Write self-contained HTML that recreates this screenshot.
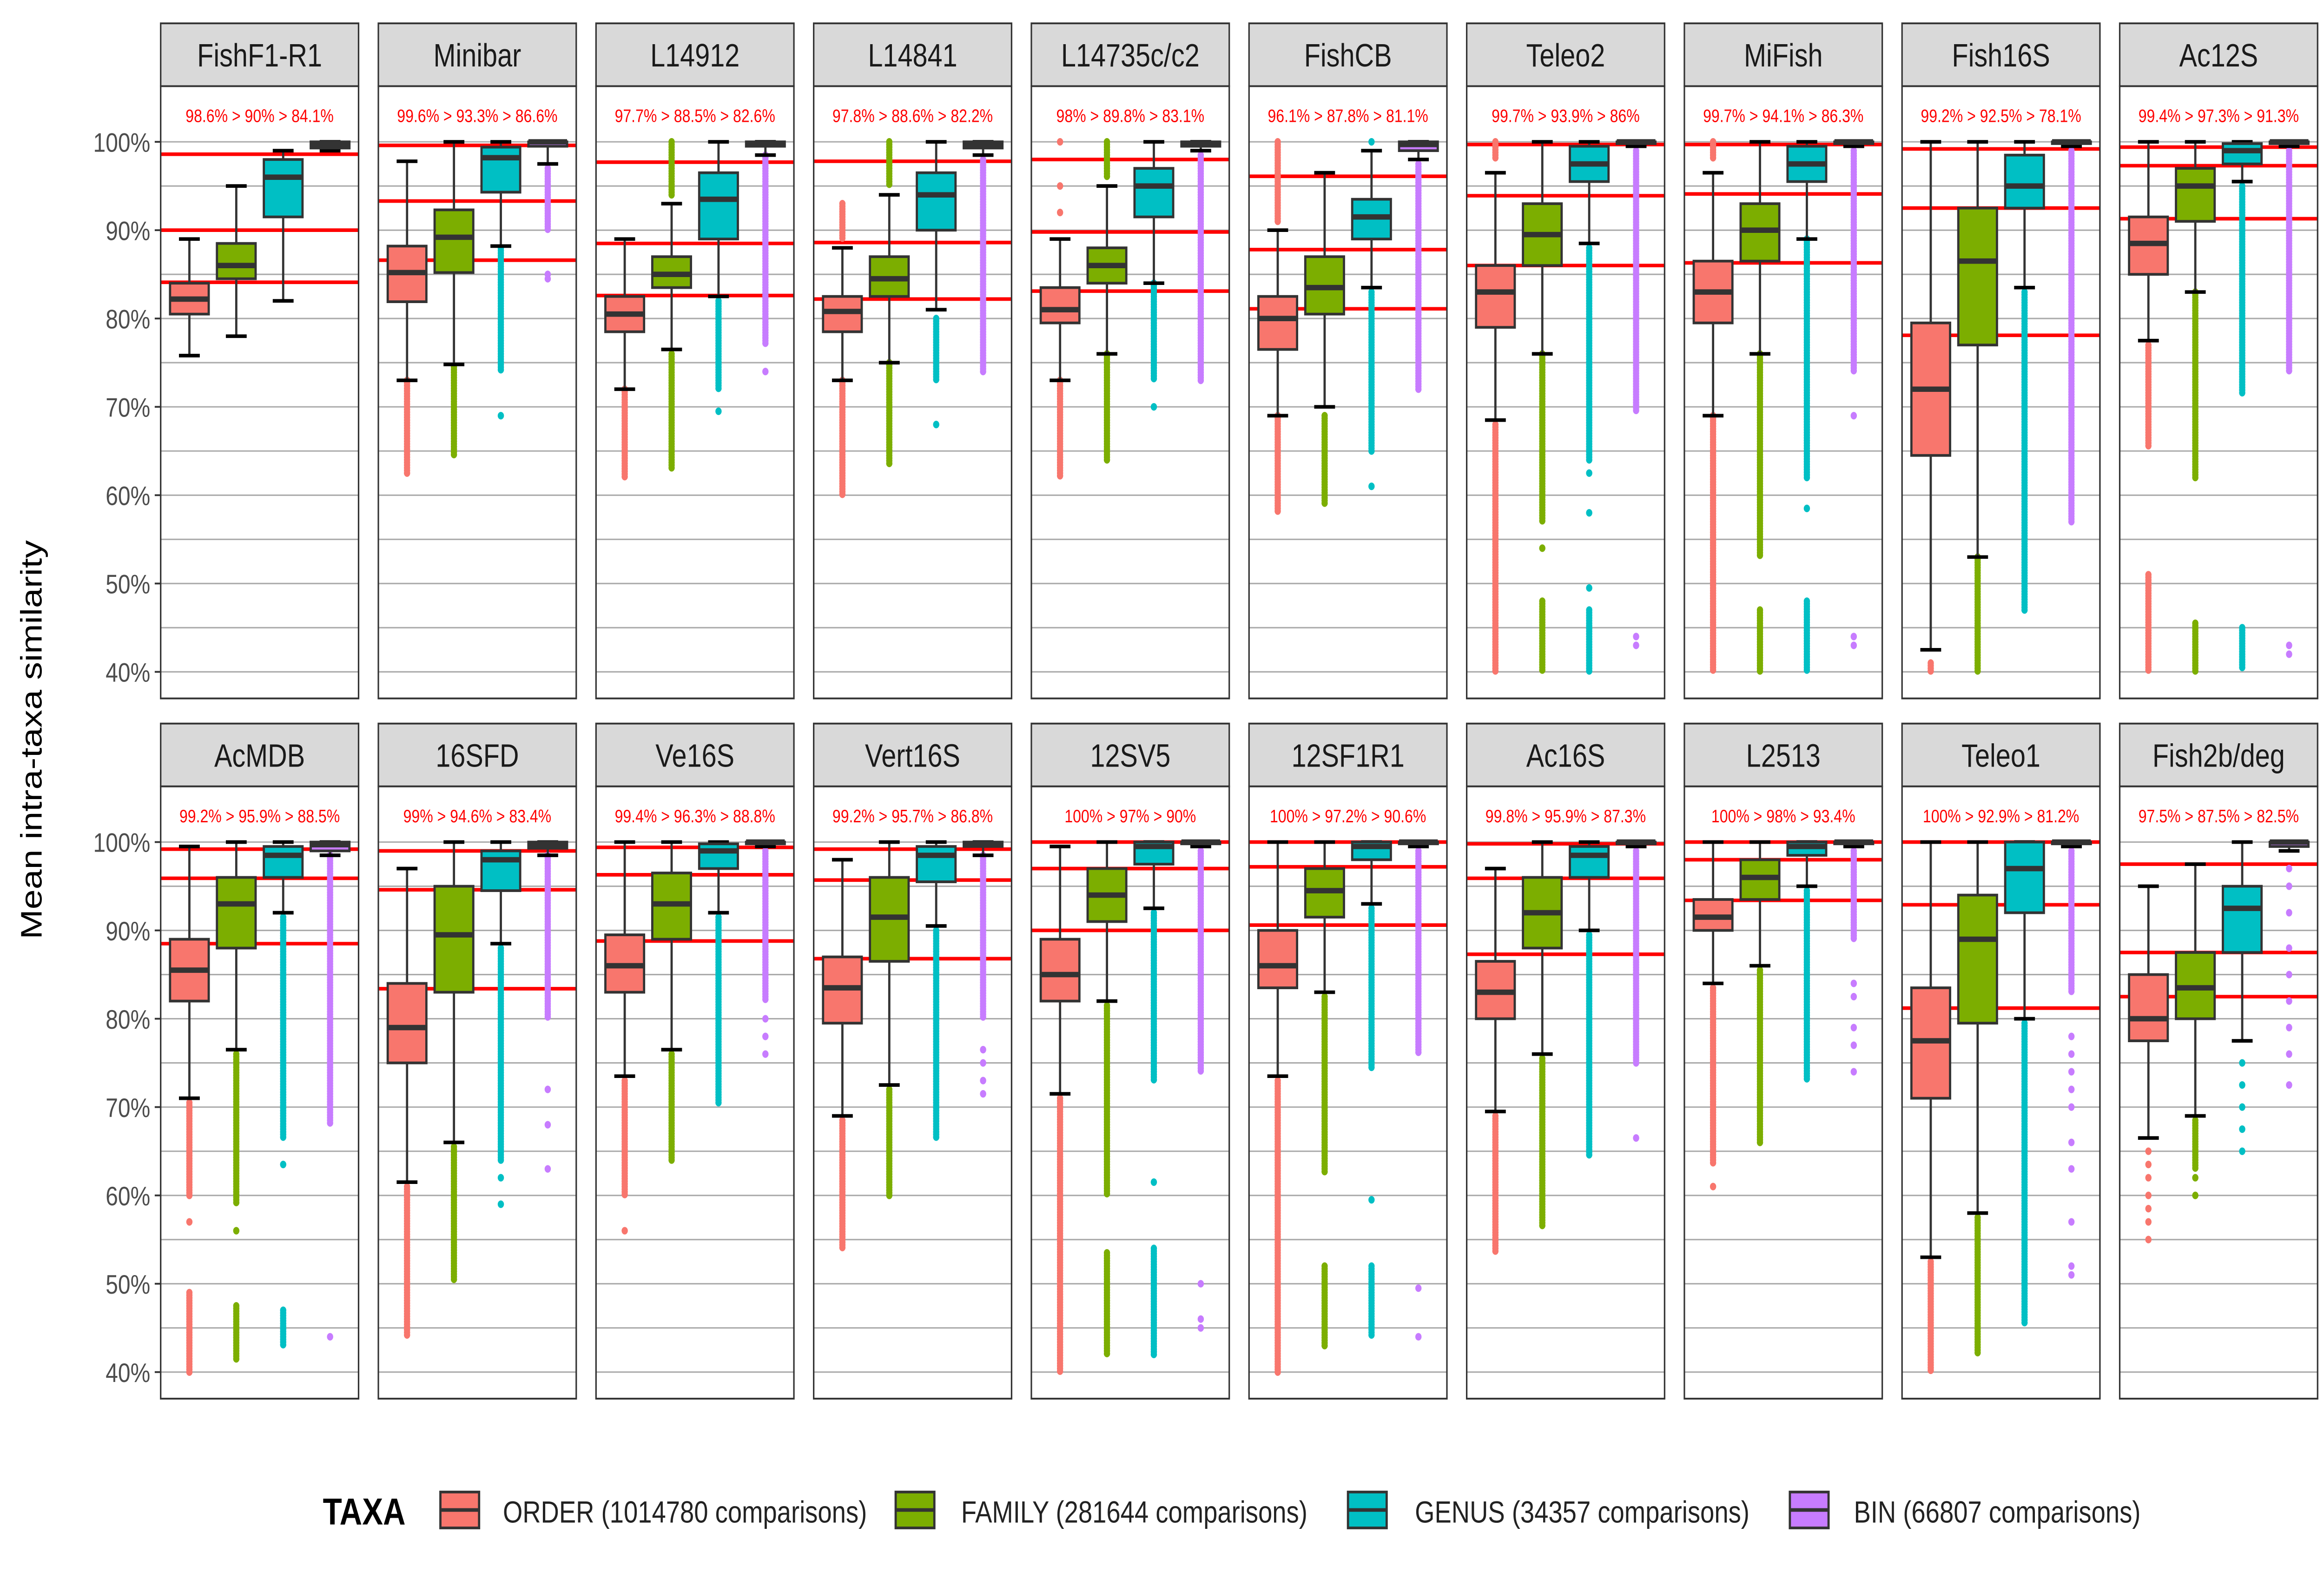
<!DOCTYPE html>
<html><head><meta charset="utf-8"><style>
html,body{margin:0;padding:0;background:#fff;width:100vw;height:100vh;overflow:hidden}
svg{display:block;position:fixed;left:0;top:0;width:100vw;height:100vh}
text{font-family:"Liberation Sans","DejaVu Sans",sans-serif}
</style></head><body>
<svg id="chart" xmlns="http://www.w3.org/2000/svg" viewBox="0 0 1562 880" preserveAspectRatio="none">
<rect x="0" y="0" width="1562" height="880" fill="#fff"/>
<g id="panels"></g>
<text x="28" y="412" transform="rotate(-90 28 412)" text-anchor="middle" font-size="20" fill="#000">Mean intra-taxa similarity</text>
<g>
<text x="217" y="849" font-size="21" font-weight="bold" fill="#000">TAXA</text>
<g><rect x="296" y="831" width="26" height="20" fill="#F8766D" stroke="#333" stroke-width="1.5"/><line x1="296" y1="841" x2="322" y2="841" stroke="#333" stroke-width="2"/><text x="338" y="848" font-size="17" fill="#222">ORDER (1014780 comparisons)</text></g>
<g><rect x="602" y="831" width="26" height="20" fill="#7CAE00" stroke="#333" stroke-width="1.5"/><line x1="602" y1="841" x2="628" y2="841" stroke="#333" stroke-width="2"/><text x="646" y="848" font-size="17" fill="#222">FAMILY (281644 comparisons)</text></g>
<g><rect x="906" y="831" width="26" height="20" fill="#00BFC4" stroke="#333" stroke-width="1.5"/><line x1="906" y1="841" x2="932" y2="841" stroke="#333" stroke-width="2"/><text x="951" y="848" font-size="17" fill="#222">GENUS (34357 comparisons)</text></g>
<g><rect x="1203" y="831" width="26" height="20" fill="#C77CFF" stroke="#333" stroke-width="1.5"/><line x1="1203" y1="841" x2="1229" y2="841" stroke="#333" stroke-width="2"/><text x="1246" y="848" font-size="17" fill="#222">BIN (66807 comparisons)</text></g>
</g>
</svg>
<script>
const markers = ["FishF1-R1","Minibar","L14912","L14841","L14735c/c2","FishCB","Teleo2","MiFish","Fish16S","Ac12S","AcMDB","16SFD","Ve16S","Vert16S","12SV5","12SF1R1","Ac16S","L2513","Teleo1","Fish2b/deg"];
const thresholds = [[98.6,90,84.1],[99.6,93.3,86.6],[97.7,88.5,82.6],[97.8,88.6,82.2],[98,89.8,83.1],[96.1,87.8,81.1],[99.7,93.9,86],[99.7,94.1,86.3],[99.2,92.5,78.1],[99.4,97.3,91.3],[99.2,95.9,88.5],[99,94.6,83.4],[99.4,96.3,88.8],[99.2,95.7,86.8],[100,97,90],[100,97.2,90.6],[99.8,95.9,87.3],[100,98,93.4],[100,92.9,81.2],[97.5,87.5,82.5]];
const taxa = ["ORDER","FAMILY","GENUS","BIN"];
const colors = ["#F8766D","#7CAE00","#00BFC4","#C77CFF"];
const yTicks = [40,50,60,70,80,90,100];
const q1 = [[80.5,84.5,91.5,99.3],[81.9,85.2,94.3,99.5],[78.5,83.5,89,99.5],[78.5,82.5,90,99.3],[79.5,84,91.5,99.5],[76.5,80.5,89,99],[79,86,95.5,99.8],[79.5,86.5,95.5,99.8],[64.5,77,92.5,99.8],[85,91,97.5,99.8],[82,88,96,99],[75,83,94.5,99.3],[83,89,97,99.8],[79.5,86.5,95.5,99.5],[82,91,97.5,99.8],[83.5,91.5,98,99.8],[80,88,96,99.8],[90,93.5,98.5,99.8],[71,79.5,92,99.8],[77.5,80,87.5,99.5]];
const med = [[82.2,86,96,99.7],[85.2,89.2,98.2,100],[80.5,85,93.5,99.8],[80.8,84.5,94,99.6],[81,86,95,99.8],[80,83.5,91.5,99.7],[83,89.5,97.5,100],[83,90,97.5,100],[72,86.5,95,100],[88.5,95,99,100],[85.5,93,98.5,99.7],[79,89.5,98,99.7],[86,93,99,100],[83.5,91.5,98.5,99.8],[85,94,99.5,100],[86,94.5,99.5,100],[83,92,98.5,100],[91.5,96,99.5,100],[77.5,89,97,100],[80,83.5,92.5,100]];
const q3 = [[84,88.5,98,100],[88.2,92.3,99.4,100],[82.5,87,96.5,100],[82.5,87,96.5,100],[83.5,88,97,100],[82.5,87,93.5,100],[86,93,99.5,100],[86.5,93,99.5,100],[79.5,92.5,98.5,100],[91.5,97,99.8,100],[89,96,99.5,100],[84,95,99,100],[89.5,96.5,99.8,100],[87,96,99.5,100],[89,97,100,100],[90,97,100,100],[86.5,96,99.5,100],[93.5,98,100,100],[83.5,94,100,100],[85,87.5,95,100]];
const wLo = [[75.8,78,82,99],[73,74.8,88.2,97.5],[72,76.5,82.5,98.5],[73,75,81,98.5],[73,76,84,99],[69,70,83.5,98],[68.5,76,88.5,99.5],[69,76,89,99.5],[42.5,53,83.5,99.5],[77.5,83,95.5,99.5],[71,76.5,92,98.5],[61.5,66,88.5,98.5],[73.5,76.5,92,99.5],[69,72.5,90.5,98.5],[71.5,82,92.5,99.5],[73.5,83,93,99.5],[69.5,76,90,99.5],[84,86,95,99.5],[53,58,80,99.5],[66.5,69,77.5,99]];
const wHi = [[89,95,99,100],[97.8,100,100,100],[89,93,100,100],[88,94,100,100],[89,95,100,100],[90,96.5,99,100],[96.5,100,100,100],[96.5,100,100,100],[100,100,100,100],[100,100,100,100],[99.5,100,100,100],[97,100,100,100],[100,100,100,100],[98,100,100,100],[99.5,100,100,100],[100,100,100,100],[97,100,100,100],[100,100,100,100],[100,100,100,100],[95,97.5,100,100]];
const outliers = [
 [[],[],[],[]],
 [[[73,62.5]],[[74.5,64.5]],[[88,74],69],[[97,90],85,84.5]],
 [[[72,62]],[[76,63],[94,100]],[[82,72],69.5],[[98.5,77],74]],
 [[[73,60],[89,93]],[[75,63.5],[95,100]],[[80,73],68],[[98,74]]],
 [[[73,62],92,95,100],[[76,64],[96,100]],[[84,73],70],[[98.5,73]]],
 [[[69,58],[91,100]],[[69,59]],[[83,65],61,100],[[97.5,72]]],
 [[[68,40],[98,100]],[[76,57],54,[48,40]],[[88,64],62.5,58,49.5,[47,40]],[[99,69.5],44,43]],
 [[[69,40],[98,100]],[[76,53],[47,40]],[[89,62],58.5,[48,40]],[[99,74],69,44,43]],
 [[[41,40]],[[53,40]],[[83,47]],[[99,57]]],
 [[[77,65.5],[51,40]],[[83,62],[45.5,40]],[[95,71.5],[45,40.5]],[[99,74],43,42]],
 [[[70.5,60],57,[49,40]],[[76,59],56,[47.5,41.5]],[[91.5,66.5],63.5,[47,43]],[[98.5,68],44]],
 [[[61,44]],[[65.5,50.5]],[[88,64],62,59],[[98.5,80],72,68,63]],
 [[[73,60],56],[[76,64]],[[91.5,70.5]],[[99,82],80,78,76]],
 [[[68.5,54]],[[72,60]],[[90,66.5]],[[98.5,80],76.5,75,73,71.5]],
 [[[71,40]],[[81.5,60],[53.5,42]],[[92,73],61.5,[54,42]],[[99,74],50,46,45]],
 [[[73,40]],[[82.5,62.5],[52,43]],[[92.5,74.5],59.5,[52,44]],[[99,76],49.5,44]],
 [[[69,53.5]],[[75.5,56.5]],[[89.5,64.5]],[[99,75],66.5]],
 [[[83.5,63.5],61],[[85.5,66]],[[94.5,73]],[[99,89],84,82.5,79,77,74]],
 [[[52.5,40]],[[57.5,42]],[[79.5,45.5]],[[99,83],78,76,74,72,70,66,63,57,52,51]],
 [[65,63.5,62,60,58.5,57,55],[[68.5,63],62,60],[75,72.5,70,67.5,65],[97,95,92,88,85,82,79,76,72.5]]
];
const NS='http://www.w3.org/2000/svg';
const root=document.getElementById('panels');
function mk(tag,attrs,parent){const e=document.createElementNS(NS,tag);for(const k in attrs)e.setAttribute(k,attrs[k]);parent.appendChild(e);return e;}
const PW=133, STEP=146.3, X0=108;
function panelX(i){return X0+(i%10)*STEP;}
function rowTop(i){return i<10?48:438;}
function yScale(v,i){return rowTop(i)+31+(100-v)*4.92;}
function boxCenter(i,t){return panelX(i)+PW*(0.145+t*0.237);}
markers.forEach((m,i)=>{
  const x=panelX(i), top=rowTop(i);
  const slug=m.toLowerCase().replace(/[^a-z0-9]+/g,'-');
  const g=mk('g',{},root);
  
  
  const strip=mk('rect',{x:x,y:top-35,width:PW,height:35,fill:'#D9D9D9',stroke:'#333','stroke-width':1},g);
  
  
  const st=mk('text',{x:x+PW/2,y:top-11,'text-anchor':'middle','font-size':18,fill:'#1a1a1a'},g);
  st.textContent=m;
  
  
  mk('rect',{x:x,y:top,width:PW,height:341,fill:'#fff'},g);
  for(let v=40;v<=100;v+=5){
    const gl=mk('line',{x1:x,x2:x+PW,y1:yScale(v,i),y2:yScale(v,i),stroke:'#ababab','stroke-width':0.8},g);
    
    
  }
  if(i%10===0){
    yTicks.forEach(v=>{
      const yy=yScale(v,i);
      mk('line',{x1:x-4,x2:x,y1:yy,y2:yy,stroke:'#333','stroke-width':1},g);
      const tl=mk('text',{x:x-7,y:yy+5.5,'text-anchor':'end','font-size':15,fill:'#4d4d4d'},g);
      tl.textContent=v+'%';
      
      
    });
  }
  thresholds[i].forEach(v=>{
    const rl=mk('line',{x1:x,x2:x+PW,y1:yScale(v,i),y2:yScale(v,i),stroke:'#ff0000','stroke-width':2},g);
    
    
  });
  const lab=mk('text',{x:x+PW/2,y:top+20,'text-anchor':'middle','font-size':10,fill:'#ff0000'},g);
  lab.textContent=thresholds[i].map(v=>v+'%').join(' > ');
  
  
  taxa.forEach((t,k)=>{
    const cx=boxCenter(i,k), bw=26, c=colors[k];
    const bg=mk('g',{},g);
    
    
    outliers[i][k].forEach(o=>{
      if(Array.isArray(o)){
        const a=Math.max(o[0],o[1]), b=Math.min(o[0],o[1]);
        for(let v=a;v>=b-0.001;v-=0.3){
          const p=mk('circle',{cx:cx,cy:yScale(v,i),r:2.1,fill:c},bg);
          
          
        }
      } else {
        const p=mk('circle',{cx:cx,cy:yScale(o,i),r:2.1,fill:c},bg);
        
        
      }
    });
    const yl=yScale(wLo[i][k],i), yh=yScale(wHi[i][k],i), y1=yScale(q1[i][k],i), y3=yScale(q3[i][k],i), ym=yScale(med[i][k],i);
    mk('line',{x1:cx,x2:cx,y1:yh,y2:yl,stroke:'#333','stroke-width':1.5},bg);
    mk('line',{x1:cx-7,x2:cx+7,y1:yh,y2:yh,stroke:'#000','stroke-width':2},bg);
    mk('line',{x1:cx-7,x2:cx+7,y1:yl,y2:yl,stroke:'#000','stroke-width':2},bg);
    mk('rect',{x:cx-bw/2,y:y3,width:bw,height:Math.max(y1-y3,0.5),fill:c,stroke:'#333','stroke-width':1.5},bg);
    mk('line',{x1:cx-bw/2,x2:cx+bw/2,y1:ym,y2:ym,stroke:'#333','stroke-width':3},bg);
  });
  mk('rect',{x:x,y:top,width:PW,height:341,fill:'none',stroke:'#333','stroke-width':1},g);
});
</script>
</body></html>
